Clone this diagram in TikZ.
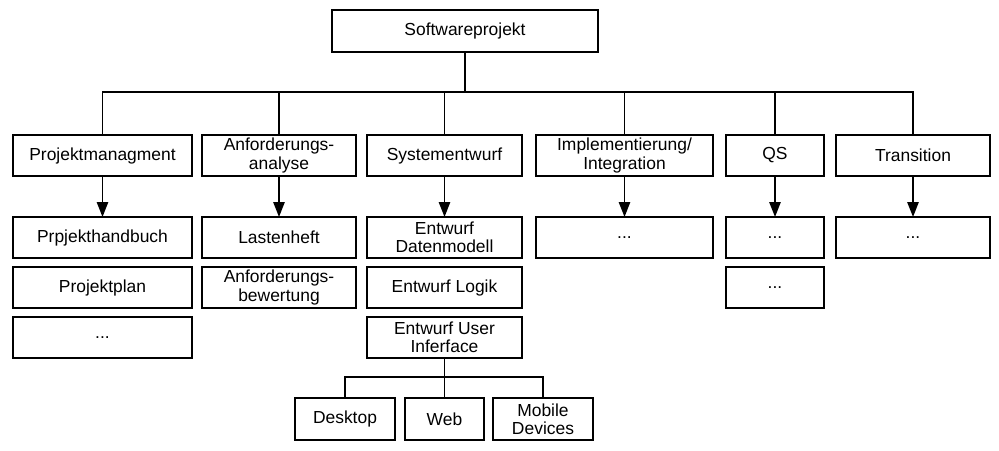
\documentclass[tikz,border=0pt]{standalone}
\usepackage{fontspec}
\setmainfont{Liberation Sans}
\usetikzlibrary{fit}
\usetikzlibrary{calc}
\usetikzlibrary{arrows.meta}
\newcommand{\boxfont}{\fontsize{12.4}{13}\selectfont}

\begin{document}
\begin{tikzpicture}[x=0.025cm, y=-0.025cm,
  workpackage/.style={draw, rectangle, line width=1.4pt},
  arr/.style={line width=1.2pt, -{Triangle[length=0.37cm,width=0.28cm]}},
  bus/.style={line width=1.2pt},
  every label/.style={font=\boxfont, align=center},
]
\useasboundingbox (0,0) rectangle (999,450);

\begin{scope}[inner sep=0pt, outer sep=0pt]
  \node (root) [workpackage, fit={(332,10) (598,52)}, label=center:{Softwareprojekt}] {};
  % phases
  \node (pm) [workpackage, fit={(13,135) (192,176)}, label=center:{Projektmanagment}] {};
  \node (aa) [workpackage, fit={(202,135) (356,176)}, label=center:{Anforderungs-\\analyse}] {};
  \node (sw) [workpackage, fit={(367,135) (522,176)}, label=center:{Systementwurf}] {};
  \node (ii) [workpackage, fit={(536,135) (713,176)}, label=center:{Implementierung/\\Integration}] {};
  \node (qs) [workpackage, fit={(726,135) (824,176)}, label=center:{QS}] {};
  \node (tr) [workpackage, fit={(836,135) (990,176)}, label=center:{Transition}] {};
  % results
  \node (pm1) [workpackage, fit={(13,217) (192,258)}, label=center:{Prpjekthandbuch}] {};
  \node (pm2) [workpackage, fit={(13,267) (192,308)}, label=center:{Projektplan}] {};
  \node (pm3) [workpackage, fit={(13,317) (192,358)}, label=center:{...}] {};
  \node (aa1) [workpackage, fit={(202,217) (356,258)}, label=center:{Lastenheft}] {};
  \node (aa2) [workpackage, fit={(202,267) (356,308)}, label=center:{Anforderungs-\\bewertung}] {};
  \node (sw1) [workpackage, fit={(367,217) (522,258)}, label=center:{Entwurf\\Datenmodell}] {};
  \node (sw2) [workpackage, fit={(367,267) (522,308)}, label=center:{Entwurf Logik}] {};
  \node (sw3) [workpackage, fit={(367,317) (522,358)}, label=center:{Entwurf User\\Inferface}] {};
  \node (ii1) [workpackage, fit={(536,217) (713,258)}, label=center:{...}] {};
  \node (qs1) [workpackage, fit={(726,217) (824,258)}, label=center:{...}] {};
  \node (qs2) [workpackage, fit={(726,267) (824,308)}, label=center:{...}] {};
  \node (tr1) [workpackage, fit={(836,217) (990,258)}, label=center:{...}] {};
  % user interface
  \node (desk) [workpackage, fit={(295,398) (395,440)}, label=center:{Desktop}] {};
  \node (web) [workpackage, fit={(405,398) (484,440)}, label=center:{Web}] {};
  \node (mob) [workpackage, fit={(493,398) (593,440)}, label=center:{Mobile\\Devices}] {};
\end{scope}

\foreach \ph in {pm,aa,sw,ii,qs,tr}
  \draw[bus] (root.south) -- ++(0,40) -| (\ph.north);

\draw[arr] (pm.south) -- (pm1.north);
\draw[arr] (aa.south) -- (aa1.north);
\draw[arr] (sw.south) -- (sw1.north);
\draw[arr] (ii.south) -- (ii1.north);
\draw[arr] (qs.south) -- (qs1.north);
\draw[arr] (tr.south) -- (tr1.north);

\foreach \ui in {desk,web,mob}
  \draw[bus] (sw3.south) -- ++(0,19) -| (\ui.north);
\end{tikzpicture}
\end{document}
